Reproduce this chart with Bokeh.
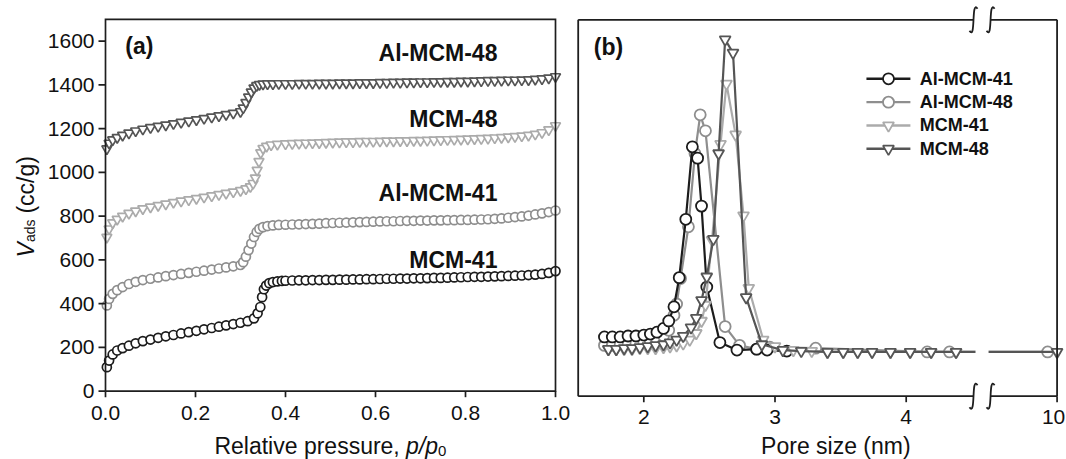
import math
from bokeh.plotting import figure
from bokeh.models import Range1d
from bokeh.layouts import row
from bokeh.embed import file_html
from bokeh.resources import INLINE
from bokeh.core.properties import value

FONT = "Liberation Sans"
INK = "#1e1e1e"
TXT = "#111111"

# ---------------- Panel (a): N2 isotherms ----------------
A_LOW_X = [0.003, 0.008, 0.016, 0.026, 0.038, 0.052, 0.067, 0.083, 0.100, 0.117, 0.134,
           0.151, 0.168, 0.185, 0.202, 0.219, 0.236, 0.252, 0.268, 0.284, 0.300]
A_HIGH_X = [0.400, 0.415, 0.430, 0.445, 0.460, 0.475, 0.490, 0.505, 0.520, 0.535, 0.550,
            0.565, 0.580, 0.595, 0.610, 0.625, 0.640, 0.655, 0.670, 0.685, 0.700, 0.715,
            0.730, 0.745, 0.760, 0.775, 0.790, 0.805, 0.820, 0.835, 0.850, 0.865, 0.880,
            0.895, 0.910, 0.925, 0.940, 0.955, 0.970, 0.985, 1.000]

MCM41_LOW = [110, 140, 168, 186, 197, 208, 219, 229, 236, 244, 251, 257, 264, 270, 276, 283,
             289, 295, 301, 307, 313]
MCM41_STEP_X = [0.316, 0.330, 0.338, 0.344, 0.348, 0.352, 0.357, 0.364, 0.372, 0.382, 0.392]
MCM41_STEP = [320, 333, 356, 385, 430, 466, 483, 494, 499, 502, 504]
MCM41_HIGH = [505, 506, 507, 507, 508, 508, 509, 509, 510, 510, 511, 511, 512, 512, 513, 514,
              514, 515, 515, 516, 516, 517, 518, 518, 519, 520, 521, 522, 523, 523, 524, 525,
              526, 527, 528, 529, 531, 533, 536, 541, 549]

ALMCM41_LOW = [392, 422, 445, 462, 476, 490, 500, 508, 514, 520, 526, 531, 536, 541, 546, 551,
               556, 561, 566, 571, 577]
ALMCM41_STEP_X = [0.306, 0.312, 0.318, 0.324, 0.330, 0.336, 0.342, 0.350, 0.360, 0.372, 0.385]
ALMCM41_STEP = [590, 615, 645, 675, 705, 728, 742, 750, 755, 758, 760]
ALMCM41_HIGH = [761, 762, 763, 764, 765, 766, 768, 769, 770, 771, 772, 773, 774, 775, 776, 777,
                777, 778, 779, 779, 780, 780, 781, 781, 782, 782, 783, 783, 784, 785, 786, 788,
                790, 793, 796, 799, 803, 808, 813, 819, 826]

MCM48_LOW = [704, 742, 770, 786, 800, 813, 824, 834, 842, 849, 856, 863, 869, 875, 881, 887,
             893, 899, 905, 911, 917]
MCM48_STEP_X = [0.312, 0.322, 0.328, 0.333, 0.337, 0.341, 0.345, 0.350, 0.358, 0.368, 0.382]
MCM48_STEP = [925, 935, 950, 975, 1010, 1050, 1090, 1110, 1120, 1126, 1129]
MCM48_HIGH = [1131, 1132, 1133, 1134, 1135, 1136, 1137, 1138, 1139, 1140, 1140, 1141, 1142,
              1142, 1143, 1144, 1144, 1145, 1145, 1146, 1146, 1147, 1148, 1149, 1150, 1151,
              1152, 1153, 1154, 1155, 1156, 1158, 1160, 1162, 1164, 1167, 1170, 1175, 1182,
              1195, 1214]

ALMCM48_LOW = [1108, 1134, 1149, 1160, 1170, 1180, 1190, 1198, 1205, 1211, 1217, 1223, 1229,
               1235, 1241, 1247, 1253, 1259, 1265, 1271, 1278]
ALMCM48_STEP_X = [0.306, 0.312, 0.318, 0.324, 0.330, 0.336, 0.342, 0.350, 0.360, 0.372, 0.385]
ALMCM48_STEP = [1295, 1320, 1345, 1368, 1386, 1397, 1402, 1404, 1405, 1405, 1406]
ALMCM48_HIGH = [1406, 1406, 1407, 1407, 1407, 1408, 1408, 1408, 1409, 1409, 1409, 1410, 1410,
                1410, 1411, 1411, 1412, 1412, 1413, 1413, 1414, 1414, 1415, 1415, 1416, 1416,
                1417, 1417, 1418, 1419, 1420, 1420, 1421, 1422, 1422, 1423, 1424, 1426, 1428,
                1432, 1438]

A_NAMES = ["MCM-41", "Al-MCM-41", "MCM-48", "Al-MCM-48"]
A_LABEL_Y = [601, 906, 1245, 1547]
A_X_TICKS = [0.0, 0.2, 0.4, 0.6, 0.8, 1.0]
A_X_TICK_LABELS = ["0.0", "0.2", "0.4", "0.6", "0.8", "1.0"]
A_Y_TICKS = [0, 200, 400, 600, 800, 1000, 1200, 1400, 1600]
A_XMAX, A_YMAX = 1.0, 1700

# ---------------- Panel (b): pore size distributions ----------------
B_AL41_X = [1.70, 1.76, 1.82, 1.88, 1.94, 2.00, 2.05, 2.10, 2.15, 2.19, 2.23, 2.27, 2.32, 2.37,
            2.41, 2.44, 2.48, 2.58, 2.71, 2.86, 2.94, 3.09]
B_AL41_Y = [0.63, 0.63, 0.63, 0.64, 0.64, 0.65, 0.66, 0.68, 0.72, 0.80, 0.95, 1.26, 1.88, 2.65,
            2.53, 2.02, 1.16, 0.57, 0.49, 0.50, 0.49, 0.48]
B_AL48_X = [1.70, 1.76, 1.82, 1.88, 1.94, 2.00, 2.05, 2.10, 2.15, 2.19, 2.23, 2.25, 2.28, 2.34,
            2.39, 2.43, 2.47, 2.62, 2.73, 2.86, 2.96, 3.31, 4.16, 4.33, 9.8]
B_AL48_Y = [0.54, 0.54, 0.55, 0.55, 0.56, 0.57, 0.58, 0.60, 0.64, 0.70, 0.86, 0.98, 1.25, 1.80,
            2.58, 2.99, 2.82, 0.74, 0.54, 0.50, 0.52, 0.51, 0.47, 0.47, 0.47]
B_M41_X = [1.73, 1.79, 1.85, 1.91, 1.97, 2.03, 2.09, 2.15, 2.20, 2.25, 2.30, 2.35, 2.40, 2.44,
           2.47, 2.52, 2.585, 2.63, 2.70, 2.76, 2.80, 2.91, 3.00, 3.14, 3.28, 3.40, 3.52, 3.63,
           3.74, 3.88, 4.03, 4.19, 4.38]
B_M41_Y = [0.50, 0.50, 0.50, 0.50, 0.51, 0.51, 0.51, 0.52, 0.53, 0.54, 0.56, 0.60, 0.67, 0.80,
           0.97, 1.66, 2.68, 3.32, 2.78, 1.92, 1.15, 0.60, 0.53, 0.49, 0.48, 0.47, 0.47, 0.47,
           0.47, 0.47, 0.47, 0.47, 0.47]
B_M48_X = [1.73, 1.79, 1.85, 1.91, 1.97, 2.03, 2.09, 2.15, 2.20, 2.25, 2.30, 2.36, 2.40, 2.44,
           2.48, 2.53, 2.57, 2.62, 2.68, 2.78, 2.90, 3.06, 3.20, 3.40, 3.52, 3.63, 3.74, 3.88,
           4.03, 4.19, 4.38, 10.0]
B_M48_Y = [0.50, 0.50, 0.51, 0.51, 0.52, 0.53, 0.54, 0.55, 0.57, 0.60, 0.64, 0.73, 0.83, 1.02,
           1.27, 1.67, 2.58, 3.79, 3.65, 1.05, 0.55, 0.49, 0.48, 0.47, 0.47, 0.47, 0.47, 0.47,
           0.47, 0.47, 0.47, 0.47]
B_NAMES = ["Al-MCM-41", "Al-MCM-48", "MCM-41", "MCM-48"]
B_X_TICKS = [2, 3, 4, 10]
B_X_TICK_LABELS = ["2", "3", "4", "10"]
B_XMIN, B_YMAX = 1.5, 4.0

# broken x axis: 1.5..4.5 linear, then a short far segment that ends at 10
BREAK_AT = 4.6
U_END = 5.15
FAR_SCALE = 0.36


def brk(x):
    return x if x <= BREAK_AT else U_END - (10.0 - x) * FAR_SCALE


def bare(p):
    p.grid.visible = False
    p.outline_line_color = None
    p.background_fill_color = "white"
    p.border_fill_color = "white"


# ================= figure (a) =================
# the frame covers the whole canvas; plot box, ticks and titles are drawn inside it
AX = 1 / 450      # x units per pixel
AY = 1 / 0.21875  # y units per pixel
A_W = 574
pa = figure(width=A_W, height=459, x_range=Range1d(-105 * AX, (A_W - 105) * AX),
            y_range=Range1d(-68.3 * AY, 390.7 * AY),
            x_axis_location=None, y_axis_location=None,
            output_backend="svg", toolbar_location=None,
            min_border=0, min_border_left=0, min_border_right=0,
            min_border_top=0, min_border_bottom=0)
bare(pa)

a_series = [
    (MCM41_LOW, MCM41_STEP_X, MCM41_STEP, MCM41_HIGH, "circle", "#1c1c1c", 9),
    (ALMCM41_LOW, ALMCM41_STEP_X, ALMCM41_STEP, ALMCM41_HIGH, "circle", "#8e8e8e", 9),
    (MCM48_LOW, MCM48_STEP_X, MCM48_STEP, MCM48_HIGH, "inverted_triangle", "#ababab", 10),
    (ALMCM48_LOW, ALMCM48_STEP_X, ALMCM48_STEP, ALMCM48_HIGH, "inverted_triangle", "#555555", 10),
]
for low, sx, sy, high, mk, col, sz in a_series:
    pa.scatter(A_LOW_X + sx + A_HIGH_X, low + sy + high, marker=mk, size=sz,
               fill_color="white", line_color=col, line_width=1.7)

# plot box
pa.line([0, A_XMAX, A_XMAX, 0, 0], [0, 0, A_YMAX, A_YMAX, 0], line_color=INK,
        line_width=1.7, line_join="miter")
# y ticks + labels
pa.segment(x0=[0] * len(A_Y_TICKS), y0=A_Y_TICKS, x1=[-7 * AX] * len(A_Y_TICKS),
           y1=A_Y_TICKS, line_color=INK, line_width=1.7)
pa.text(x=[-11 * AX] * len(A_Y_TICKS), y=A_Y_TICKS, text=[str(t) for t in A_Y_TICKS],
        text_font=value(FONT), text_font_size="21px", text_align="right",
        text_baseline="middle", text_color=TXT)
# x ticks + labels
pa.segment(x0=A_X_TICKS, y0=[0] * len(A_X_TICKS), x1=A_X_TICKS,
           y1=[-6 * AY] * len(A_X_TICKS), line_color=INK, line_width=1.7)
pa.text(x=A_X_TICKS, y=[-22 * AY] * len(A_X_TICKS), text=A_X_TICK_LABELS,
        text_font=value(FONT), text_font_size="21px", text_align="center",
        text_baseline="middle", text_color=TXT)

pa.text(x=[0.871] * 4, y=A_LABEL_Y, text=A_NAMES, text_font=value(FONT),
        text_font_size="23px", text_font_style="bold", text_align="right",
        text_baseline="middle", text_color=TXT)
pa.text(x=[0.044], y=[1579], text=["(a)"], text_font=value(FONT), text_font_size="23px",
        text_font_style="bold", text_align="left", text_baseline="middle", text_color=TXT)

# y-axis title: V_ads (cc/g), rotated
pa.text(x=[-80 * AX], y=[611], text=["V"], angle=math.pi / 2, text_font=value(FONT),
        text_font_size="23px", text_font_style="italic", text_color=TXT,
        text_align="left", text_baseline="middle")
pa.text(x=[-76 * AX], y=[682], text=["ads"], angle=math.pi / 2, text_font=value(FONT),
        text_font_size="14px", text_color=TXT, text_align="left", text_baseline="middle")
pa.text(x=[-80 * AX], y=[812], text=["(cc/g)"], angle=math.pi / 2, text_font=value(FONT),
        text_font_size="23px", text_color=TXT, text_align="left", text_baseline="middle")
# x-axis title: Relative pressure, p/p0
pa.text(x=[0.242], y=[-55 * AY], text=["Relative pressure,"], text_font=value(FONT),
        text_font_size="23px", text_color=TXT, text_align="left", text_baseline="middle")
pa.text(x=[0.668], y=[-55 * AY], text=["p/p"], text_font=value(FONT), text_font_size="23px",
        text_font_style="italic", text_color=TXT, text_align="left", text_baseline="middle")
pa.text(x=[0.739], y=[-60 * AY], text=["0"], text_font=value(FONT), text_font_size="15px",
        text_color=TXT, text_align="left", text_baseline="middle")

# ================= figure (b) =================
BU = 1 / 131.2   # x units per pixel
BV = 1 / 94.1    # y units per pixel
B_W = 1066 - A_W
pb = figure(width=B_W, height=459,
            x_range=Range1d(2 - (643.3 - A_W) * BU, 2 + (1066 - 643.3) * BU),
            y_range=Range1d(-63.3 * BV, 395.7 * BV),
            x_axis_location=None, y_axis_location=None,
            output_backend="svg", toolbar_location=None,
            min_border=0, min_border_left=0, min_border_right=0,
            min_border_top=0, min_border_bottom=0)
bare(pb)

S1, S2 = 4.513, 4.643  # positions of the two break marks

b_series = [
    (B_AL48_X, B_AL48_Y, "circle", "#8e8e8e"),
    (B_AL41_X, B_AL41_Y, "circle", "#1c1c1c"),
    (B_M41_X, B_M41_Y, "inverted_triangle", "#ababab"),
    (B_M48_X, B_M48_Y, "inverted_triangle", "#555555"),
]
for xs, ys, mk, col in b_series:
    us = [brk(v) for v in xs]
    pb.line(us, ys, line_color=col, line_width=2.2)
    pb.scatter(us, ys, marker=mk, size=11, fill_color="white", line_color=col, line_width=1.8)

# gap where the curves cross the axis break
pb.quad(left=[S1 + 2 * BU], right=[S2 - 2 * BU], bottom=[0.25], top=[0.75],
        fill_color="white", line_color=None)

# broken plot box
XL, XR = B_XMIN, U_END
pb.segment(x0=[XL, XR, XL, S2, XL, S2], y0=[0, 0, B_YMAX, B_YMAX, 0, 0],
           x1=[XL, XR, S1, XR, S1, XR], y1=[B_YMAX, B_YMAX, B_YMAX, B_YMAX, 0, 0],
           line_color=INK, line_width=1.8)
for uc in (S1, S2):
    for vc in (0, B_YMAX):
        pb.bezier(x0=[uc + 4 * BU], y0=[vc + 11 * BV], x1=[uc - 4 * BU], y1=[vc - 11 * BV],
                  cx0=[uc - 2.5 * BU], cy0=[vc + 21 * BV], cx1=[uc + 2.5 * BU],
                  cy1=[vc - 21 * BV], line_color=INK, line_width=1.8)

# x ticks + labels
b_ticks_u = [brk(t) for t in B_X_TICKS]
pb.segment(x0=b_ticks_u, y0=[0] * 4, x1=b_ticks_u, y1=[-6 * BV] * 4,
           line_color=INK, line_width=1.7)
pb.text(x=b_ticks_u[:3], y=[-21 * BV] * 3, text=B_X_TICK_LABELS[:3], text_font=value(FONT),
        text_font_size="21px", text_align="center", text_baseline="middle", text_color=TXT)
# last label sits at the canvas edge: nudge it inward a little
pb.text(x=[b_ticks_u[3] - 3.5 * BU], y=[-21 * BV], text=B_X_TICK_LABELS[3:],
        text_font=value(FONT), text_font_size="21px", text_align="center",
        text_baseline="middle", text_color=TXT)

pb.text(x=[1.619], y=[3.709], text=["(b)"], text_font=value(FONT), text_font_size="23px",
        text_font_style="bold", text_align="left", text_baseline="middle", text_color=TXT)

# legend
LEG_X0, LEG_X1, LEG_XM, LEG_XT = 3.697, 4.032, 3.865, 4.104
LEG_TOP, LEG_STEP = 3.373, 0.248
leg_style = {"Al-MCM-41": ("circle", "#1c1c1c"), "Al-MCM-48": ("circle", "#8e8e8e"),
             "MCM-41": ("inverted_triangle", "#ababab"),
             "MCM-48": ("inverted_triangle", "#555555")}
for i, name in enumerate(B_NAMES):
    mk, col = leg_style[name]
    yy = LEG_TOP - i * LEG_STEP
    pb.segment(x0=[LEG_X0], y0=[yy], x1=[LEG_X1], y1=[yy], line_color=col, line_width=2.4)
    pb.scatter([LEG_XM], [yy], marker=mk, size=11, fill_color="white", line_color=col,
               line_width=1.8)
pb.text(x=[LEG_XT] * 4, y=[LEG_TOP - i * LEG_STEP for i in range(4)], text=B_NAMES,
        text_font=value(FONT), text_font_size="18px", text_font_style="bold",
        text_align="left", text_baseline="middle", text_color=TXT)

pb.text(x=[3.464], y=[-50 * BV], text=["Pore size (nm)"], text_font=value(FONT),
        text_font_size="23px", text_color=TXT, text_align="center", text_baseline="middle")

layout = row(pa, pb)
open("out.html", "w").write(file_html(layout, INLINE))
